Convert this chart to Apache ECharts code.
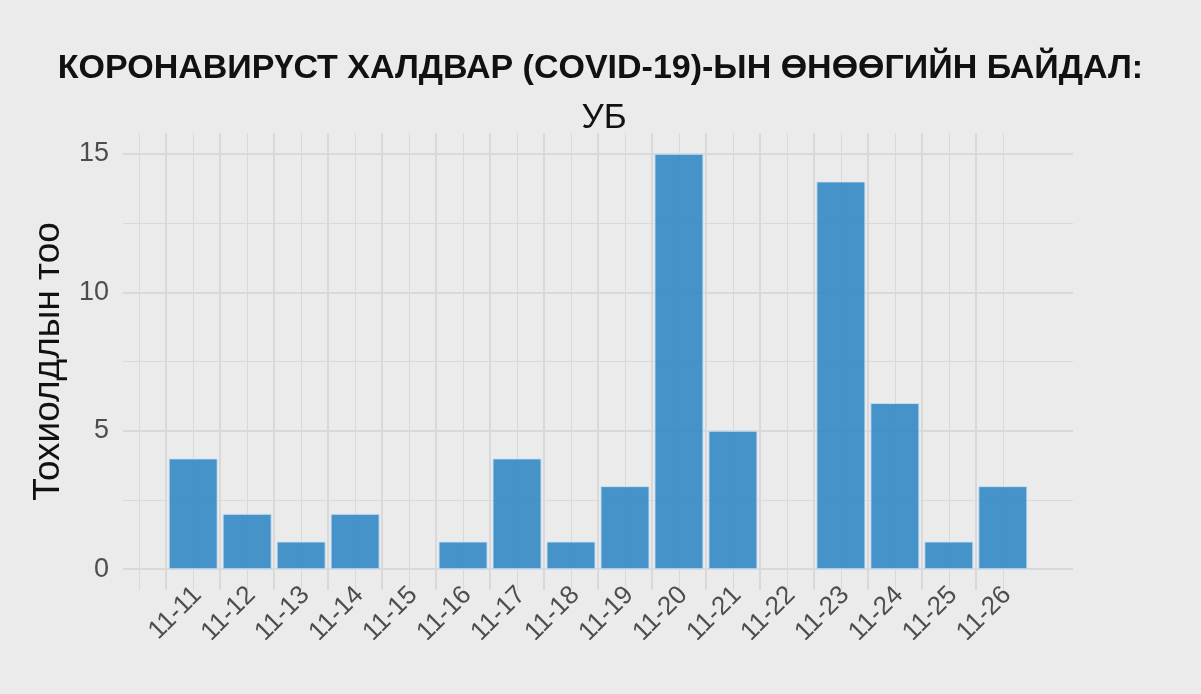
<!DOCTYPE html>
<html>
<head>
<meta charset="utf-8">
<script src="https://cdn.jsdelivr.net/npm/echarts@6.0.0/dist/echarts.min.js"></script>
<style>
  html, body { margin: 0; padding: 0; background: #ebebeb; }
  #chart { width: 1201px; height: 694px; }
</style>
</head>
<body>
<div id="chart"></div>
<script>
var dates = ['11-11', '11-12', '11-13', '11-14', '11-15', '11-16', '11-17', '11-18',
             '11-19', '11-20', '11-21', '11-22', '11-23', '11-24', '11-25', '11-26'];
var cases = [4, 2, 1, 2, 0, 1, 4, 1, 3, 15, 5, 0, 14, 6, 1, 3];
var yTicks = [0, 5, 10, 15];
var yMinor = [2.5, 7.5, 12.5];

var chart = echarts.init(document.getElementById('chart'));

// day i is drawn between tick i and tick i+1
var xTicks = dates.map(function (d, i) { return i; });
var xMid = dates.map(function (d, i) { return i + 0.5; });
// labels hang a little right of the bar centre, like the ggplot hjust
var xLab = dates.map(function (d, i) { return i + 0.58; });
var barData = cases.map(function (c, i) {
    return { value: [i + 0.5, c], itemStyle: c === 0 ? { borderWidth: 0 } : undefined };
});

var gridColor = '#d9d9d9';
var textFont = 'Liberation Sans, Arial, sans-serif';

var option = {
    backgroundColor: '#ebebeb',
    animation: false,
    title: [{
        text: 'КОРОНАВИРҮСТ ХАЛДВАР (COVID-19)-ЫН ӨНӨӨГИЙН БАЙДАЛ:',
        left: 'center',
        top: 47,
        textStyle: { fontFamily: textFont, fontWeight: 'bold', fontSize: 34, color: '#111' }
    }, {
        text: 'УБ',
        left: 599,
        top: 96,
        textAlign: 'center',
        textStyle: { fontFamily: textFont, fontWeight: 'normal', fontSize: 35, color: '#111' }
    }],
    grid: { left: 123, right: 128, top: 133, bottom: 104 },
    xAxis: [{
        type: 'value',
        min: -0.8,
        max: 16.8,
        axisLine: { show: false },
        axisTick: { show: false, customValues: xTicks },
        splitLine: { show: true, lineStyle: { color: gridColor, width: 2 } },
        axisLabel: {
            customValues: xLab,
            rotate: 45,
            margin: 1,
            fontFamily: textFont,
            fontSize: 26,
            color: '#4d4d4d',
            formatter: function (v) { return dates[Math.floor(v)]; }
        }
    }, {
        type: 'value',
        min: -0.8,
        max: 16.8,
        axisLine: { show: false },
        axisTick: { show: false, customValues: [-0.5].concat(xMid) },
        axisLabel: { show: false },
        splitLine: { show: true, lineStyle: { color: gridColor, width: 1 } }
    }],
    yAxis: [{
        type: 'value',
        min: -0.75,
        max: 15.75,
        name: 'Тохиолдлын тоо',
        nameLocation: 'middle',
        nameGap: 56,
        nameTextStyle: { fontFamily: textFont, fontSize: 37, color: '#111' },
        axisLine: { show: false },
        axisTick: { show: false, customValues: yTicks },
        splitLine: { show: true, lineStyle: { color: gridColor, width: 2 } },
        axisLabel: {
            customValues: yTicks,
            margin: 14,
            fontFamily: textFont,
            fontSize: 27,
            color: '#4d4d4d'
        }
    }, {
        type: 'value',
        min: -0.75,
        max: 15.75,
        position: 'left',
        axisLine: { show: false },
        axisTick: { show: false, customValues: yMinor },
        axisLabel: { show: false },
        splitLine: { show: true, lineStyle: { color: gridColor, width: 1 } }
    }],
    series: [{
        type: 'bar',
        xAxisIndex: 0,
        yAxisIndex: 0,
        data: barData,
        barWidth: 49,
        itemStyle: {
            color: 'rgba(54, 139, 196, 0.92)',
            borderColor: 'rgba(200, 225, 245, 0.9)',
            borderWidth: 1
        }
    }]
};

chart.setOption(option);
</script>
</body>
</html>
